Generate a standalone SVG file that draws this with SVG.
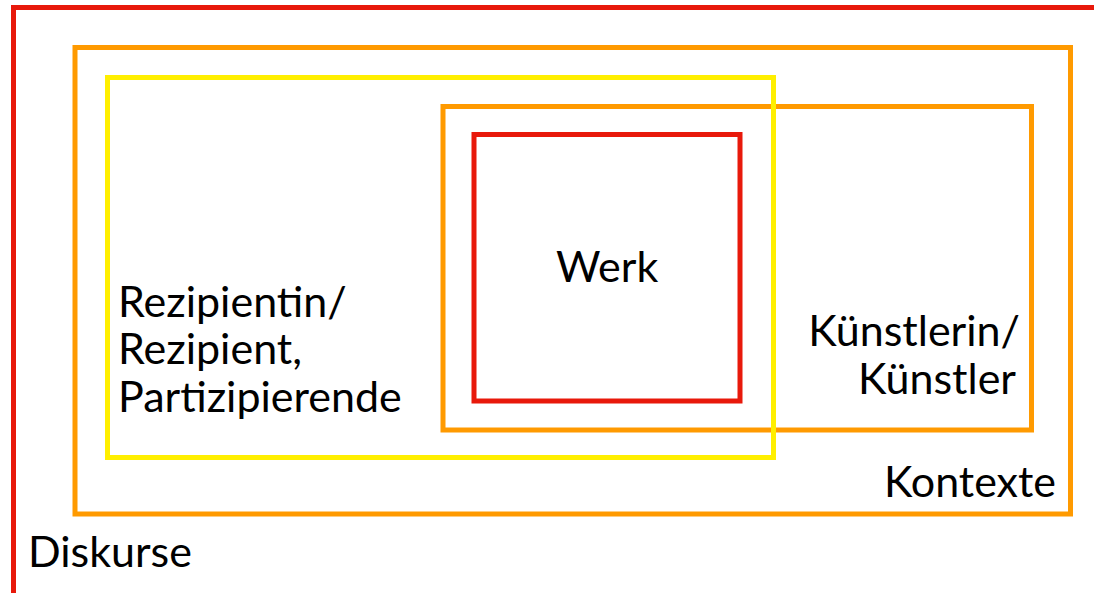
<svg xmlns="http://www.w3.org/2000/svg" width="1094" height="593" viewBox="0 0 1094 593">
<style>
.box{fill:none;stroke-width:5;stroke-linejoin:miter}
.red{stroke:#E8190B}
.org{stroke:#FF9A00}
.yel{stroke:#FFEF00}
text{font-family:Lato,"Open Sans","Liberation Sans",sans-serif;font-size:43px;fill:#000}
</style>
<rect width="1094" height="593" fill="#fff"/>
<g id="diskurse">
<rect class="box red" x="13.5" y="7.5" width="1090" height="589"/>
<text x="28" y="567">Diskurse</text>
</g>
<g id="kontexte">
<rect class="box org" x="75" y="47.5" width="995.5" height="466.5"/>
<text x="1056" y="497" text-anchor="end">Kontexte</text>
</g>
<g id="kuenstler">
<rect class="box org" x="443" y="106.5" width="588.5" height="323.5"/>
<text x="1020" y="346" text-anchor="end">Künstlerin/</text>
<text x="1016" y="394" text-anchor="end">Künstler</text>
</g>
<g id="rezipient">
<rect class="box yel" x="107.5" y="77.5" width="666" height="380"/>
<text x="118" y="317">Rezipientin/</text>
<text x="118" y="364">Rezipient,</text>
<text x="118" y="412">Partizipierende</text>
</g>
<g id="werk">
<rect class="box red" x="474" y="134.5" width="266" height="266.5"/>
<text x="556" y="282">Werk</text>
</g>
<g id="connectors"/>
</svg>
